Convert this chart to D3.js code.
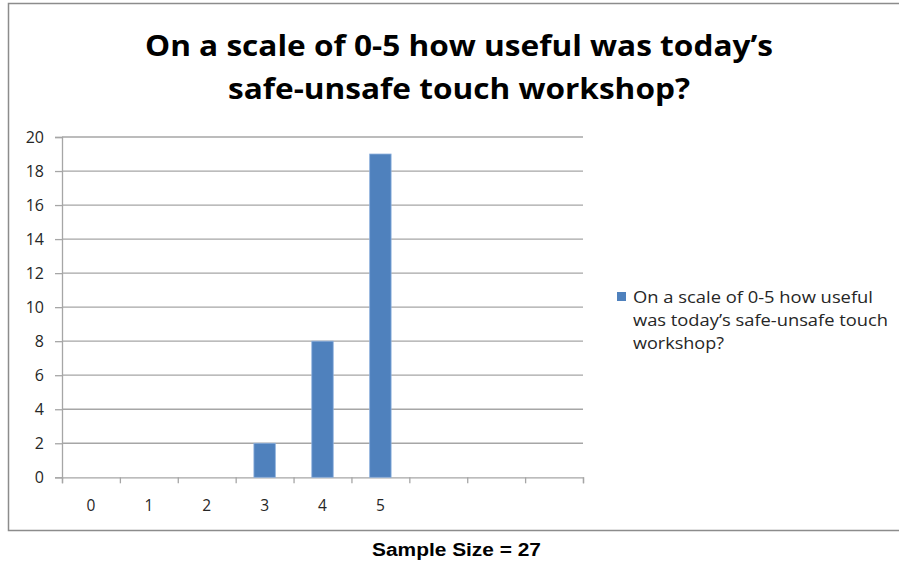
<!DOCTYPE html>
<html><head><meta charset="utf-8">
<script src="https://cdn.jsdelivr.net/npm/d3@7"></script>
<style>body{margin:0;background:#fff}svg{display:block}</style>
</head><body>
<svg id="c" width="899" height="562"></svg>
<script>
const categories = ["0","1","2","3","4","5","","",""];
const values = [0,0,0,2,8,19,null,null,null];
const yTicks = [0,2,4,6,8,10,12,14,16,18,20];
const seriesName = "On a scale of 0-5 how useful was today\u2019s safe-unsafe touch workshop?";
const titleLines = ["On a scale of 0-5  how useful was today\u2019s","safe-unsafe touch workshop?"];
const legendLines = ["On a scale of 0-5 how useful","was today\u2019s safe-unsafe touch","workshop?"];
const footer = "Sample Size = 27";

const svg = d3.select("#c");
const M = {l:62, r:583, t:137, b:477.3};

// outer border
svg.append("path").attr("d","M899,3.5 H8.5 V530.5 H899").attr("fill","none").attr("stroke","#8c8c8c").attr("stroke-width",1.5);

const x = d3.scaleBand().domain(categories.map((d,i)=>i)).range([M.l,M.r]).paddingInner(0.63).paddingOuter(0.315);
const xs = d3.scaleLinear().domain([0,categories.length]).range([M.l,M.r]);
const y = d3.scaleLinear().domain([0,20]).range([M.b,M.t]);

// gridlines
svg.append("g").selectAll("line").data(yTicks.filter(d=>d>0)).join("line")
  .attr("x1",M.l).attr("x2",M.r).attr("y1",d=>y(d)).attr("y2",d=>y(d))
  .attr("stroke","#a6a6a6").attr("stroke-width",1.3);

// y axis
const ya = svg.append("g").attr("transform",`translate(${M.l},0)`)
  .call(d3.axisLeft(y).tickValues(yTicks).tickSize(7).tickPadding(11));
ya.attr("font-size",null).attr("font-family",null);
ya.select(".domain").attr("stroke","#a6a6a6").attr("stroke-width",1.3);
ya.selectAll(".tick line").attr("stroke","#a6a6a6").attr("stroke-width",1.3);
ya.selectAll("text").style("font-family","'Open Sans', sans-serif").style("font-size","16px").attr("fill","#262626");

// x axis
const xa = svg.append("g").attr("transform",`translate(0,${M.b})`)
  .call(d3.axisBottom(xs).tickValues(d3.range(categories.length+1)).tickSize(6).tickFormat(""));
xa.select(".domain").attr("stroke","#a6a6a6").attr("stroke-width",1.3);
xa.selectAll(".tick line").attr("stroke","#a6a6a6").attr("stroke-width",1.3);
svg.append("g").selectAll("text").data(categories).join("text")
  .attr("x",(d,i)=>x(i)+x.bandwidth()/2).attr("y",M.b+34)
  .attr("text-anchor","middle").style("font-family","'Open Sans', sans-serif").style("font-size","15.5px").attr("fill","#262626")
  .text(d=>d);

// bars
svg.append("g").selectAll("rect").data(values.map((v,i)=>({v,i})).filter(d=>d.v)).join("rect")
  .attr("x",d=>x(d.i)).attr("width",x.bandwidth())
  .attr("y",d=>y(d.v)).attr("height",d=>y(0)-y(d.v))
  .attr("fill","#4f81bd").attr("stroke","#8db0dd").attr("stroke-width",0.8);

// title
const titleW = [628, 462];
svg.append("g").selectAll("text").data(titleLines).join("text")
  .attr("x",459).attr("y",(d,i)=>56+i*43).attr("text-anchor","middle")
  .style("font-family","'Open Sans', sans-serif").style("font-weight","700").style("font-size","28px")
  .attr("textLength",(d,i)=>titleW[i]).attr("lengthAdjust","spacingAndGlyphs")
  .attr("fill","#000").text(d=>d);

// legend
svg.append("rect").attr("x",617).attr("y",292).attr("width",9).attr("height",9).attr("fill","#4f81bd");
const legW = [240, 255, 91];
svg.append("g").selectAll("text").data(legendLines).join("text")
  .attr("x",633).attr("y",(d,i)=>303+i*23)
  .style("font-family","'Open Sans', sans-serif").style("font-size","16.5px")
  .attr("textLength",(d,i)=>legW[i]).attr("lengthAdjust","spacingAndGlyphs")
  .attr("fill","#262626").text(d=>d);

// footer
svg.append("text").attr("x",456.5).attr("y",556).attr("text-anchor","middle")
  .style("font-family","'Liberation Sans', Arial, sans-serif").style("font-weight","bold").style("font-size","18px")
  .attr("textLength",169).attr("lengthAdjust","spacingAndGlyphs")
  .attr("fill","#000").text(footer);
</script>
</body></html>
